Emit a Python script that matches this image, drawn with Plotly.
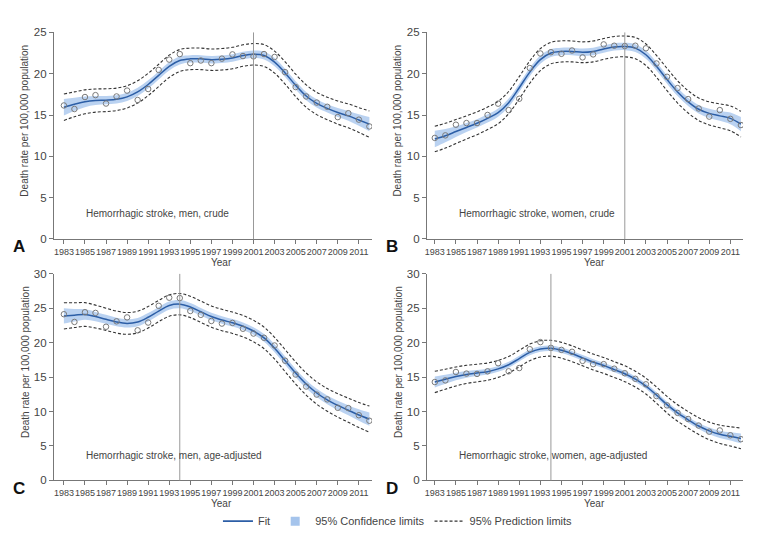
import plotly.graph_objects as go

# year axis shared by all four panels
years = list(range(1983, 2013))
tick_years = list(range(1983, 2012, 2))

# A: men, crude
a_obs = [16.16, 15.73, 17.18, 17.41, 16.39, 17.25, 17.96, 16.82, 18.15, 20.46,
         21.71, 22.38, 21.28, 21.60, 21.28, 21.83, 22.34, 22.14, 22.10, 22.38,
         22.03, 20.19, 18.39, 17.25, 16.51, 16.00, 14.75, 15.22, 14.44, 13.62]
a_fit = [15.95, 16.3, 16.6, 16.75, 16.8, 16.9, 17.2, 17.8, 18.7, 19.8,
         20.9, 21.6, 21.8, 21.8, 21.7, 21.75, 21.9, 22.2, 22.35, 22.2,
         21.4, 20.1, 18.6, 17.3, 16.4, 15.8, 15.3, 14.9, 14.4, 13.9]
a_ci = [1.0, 0.8, 0.65, 0.55, 0.5, 0.5, 0.5, 0.5, 0.5, 0.5,
        0.5, 0.48, 0.45, 0.45, 0.45, 0.45, 0.45, 0.45, 0.45, 0.48,
        0.5, 0.5, 0.5, 0.5, 0.5, 0.5, 0.55, 0.6, 0.7, 0.85]
a_pi = [1.6, 1.5, 1.45, 1.4, 1.38, 1.36, 1.35, 1.35, 1.35, 1.35,
        1.35, 1.33, 1.3, 1.3, 1.3, 1.3, 1.3, 1.3, 1.3, 1.32,
        1.33, 1.35, 1.35, 1.35, 1.35, 1.36, 1.4, 1.45, 1.5, 1.6]

# B: women, crude
b_obs = [12.23, 12.54, 13.83, 14.03, 14.03, 15.01, 16.38, 15.60, 16.97, 20.69,
         22.45, 22.61, 22.41, 22.81, 21.98, 22.34, 23.55, 23.39, 23.35, 23.39,
         23.08, 21.24, 19.63, 18.26, 16.93, 15.79, 14.81, 15.60, 14.54, 13.79]
b_fit = [12.1, 12.5, 13.0, 13.5, 14.0, 14.6, 15.3, 16.5, 18.3, 20.2,
         21.7, 22.5, 22.7, 22.7, 22.6, 22.7, 23.0, 23.25, 23.3, 23.1,
         22.3, 20.9, 19.3, 17.8, 16.6, 15.7, 15.2, 14.9, 14.6, 13.9]
b_ci = [1.0, 0.8, 0.65, 0.55, 0.5, 0.5, 0.5, 0.5, 0.5, 0.5,
        0.5, 0.48, 0.45, 0.45, 0.45, 0.45, 0.45, 0.45, 0.45, 0.48,
        0.5, 0.5, 0.5, 0.5, 0.5, 0.5, 0.55, 0.6, 0.7, 0.85]
b_pi = [1.55, 1.5, 1.45, 1.4, 1.38, 1.36, 1.35, 1.35, 1.35, 1.35,
        1.33, 1.3, 1.28, 1.27, 1.26, 1.26, 1.26, 1.26, 1.26, 1.28,
        1.3, 1.32, 1.35, 1.35, 1.35, 1.36, 1.4, 1.45, 1.5, 1.55]

# C: men, age-adjusted
c_obs = [24.14, 23.02, 24.43, 24.33, 22.32, 23.11, 23.68, 21.80, 22.93, 25.36,
         26.54, 26.49, 24.61, 24.05, 23.16, 22.78, 22.88, 22.03, 21.33, 20.72,
         19.60, 17.39, 15.38, 13.64, 12.47, 11.77, 10.55, 10.50, 9.47, 8.67]
c_fit = [23.9, 24.0, 24.1, 23.8, 23.4, 23.0, 22.8, 23.0, 23.7, 24.6,
         25.4, 25.6, 25.2, 24.5, 23.8, 23.3, 22.9, 22.4, 21.7, 20.7,
         19.2, 17.4, 15.6, 14.0, 12.7, 11.7, 10.9, 10.2, 9.5, 8.9]
c_ci = [1.1, 0.9, 0.75, 0.68, 0.65, 0.62, 0.6, 0.6, 0.6, 0.6,
        0.6, 0.6, 0.58, 0.56, 0.55, 0.55, 0.55, 0.55, 0.55, 0.56,
        0.58, 0.6, 0.6, 0.6, 0.6, 0.62, 0.66, 0.72, 0.82, 0.95]
c_pi = [1.9, 1.8, 1.72, 1.66, 1.62, 1.6, 1.58, 1.57, 1.56, 1.55,
        1.55, 1.55, 1.55, 1.55, 1.55, 1.55, 1.55, 1.55, 1.56, 1.57,
        1.58, 1.6, 1.6, 1.6, 1.62, 1.65, 1.7, 1.75, 1.82, 1.9]

# D: women, age-adjusted
d_obs = [14.29, 14.53, 15.75, 15.52, 15.47, 15.85, 17.03, 15.85, 16.32, 19.06,
         20.09, 19.25, 18.96, 18.68, 17.36, 16.89, 16.89, 16.23, 15.57, 14.76,
         13.96, 12.26, 10.90, 9.81, 8.92, 7.97, 7.08, 7.26, 6.56, 5.99]
d_fit = [14.3, 14.7, 15.1, 15.4, 15.6, 15.8, 16.2, 16.8, 17.7, 18.6,
         19.1, 19.2, 18.9, 18.4, 17.8, 17.2, 16.7, 16.1, 15.5, 14.7,
         13.7, 12.4, 11.0, 9.8, 8.8, 7.9, 7.2, 6.7, 6.4, 6.1]
d_ci = [0.8, 0.65, 0.55, 0.48, 0.45, 0.42, 0.42, 0.42, 0.42, 0.42,
        0.4, 0.4, 0.4, 0.4, 0.4, 0.4, 0.4, 0.4, 0.4, 0.4,
        0.4, 0.42, 0.42, 0.42, 0.42, 0.44, 0.48, 0.53, 0.6, 0.7]
d_pi = [1.55, 1.45, 1.38, 1.32, 1.28, 1.25, 1.23, 1.2, 1.2, 1.2,
        1.18, 1.15, 1.15, 1.15, 1.15, 1.15, 1.15, 1.15, 1.15, 1.15,
        1.15, 1.18, 1.2, 1.2, 1.2, 1.22, 1.27, 1.33, 1.4, 1.5]

# the page body has an 8px margin, so the figure is drawn 8px in from the corner
PAGE_W, PAGE_H, OFF = 761, 544, 8
W, H = PAGE_W - 2 * OFF, PAGE_H - 2 * OFF


def px(x):
    return (x - OFF) / W


def py(y):
    return 1 - (y - OFF) / H


FONT = "Liberation Sans, Arial, sans-serif"
FIT_COL = "#2c5ea6"
BAND_COL = "rgba(140,180,232,0.6)"
TXT = "#444444"

panels = [
    dict(tag="A", obs=a_obs, fit=a_fit, ci=a_ci, pi=a_pi, cut=2001, ymax=25,
         text="Hemorrhagic stroke, men, crude",
         box=(52, 371, 27, 240), xr=[1982.05, 2012.25]),
    dict(tag="B", obs=b_obs, fit=b_fit, ci=b_ci, pi=b_pi, cut=2001, ymax=25,
         text="Hemorrhagic stroke, women, crude",
         box=(426, 743, 27, 240), xr=[1982.25, 2012.2]),
    dict(tag="C", obs=c_obs, fit=c_fit, ci=c_ci, pi=c_pi, cut=1994, ymax=30,
         text="Hemorrhagic stroke, men, age-adjusted",
         box=(52, 371, 276, 489), xr=[1982.05, 2012.25]),
    dict(tag="D", obs=d_obs, fit=d_fit, ci=d_ci, pi=d_pi, cut=1994, ymax=30,
         text="Hemorrhagic stroke, women, age-adjusted",
         box=(426, 743, 276, 489), xr=[1982.25, 2012.2]),
]

fig = go.Figure()
annotations = []

for i, p in enumerate(panels):
    n = "" if i == 0 else str(i + 1)
    xa, ya = "x" + n, "y" + n
    ci_lo = [f - h for f, h in zip(p["fit"], p["ci"])]
    ci_hi = [f + h for f, h in zip(p["fit"], p["ci"])]
    pi_lo = [f - h for f, h in zip(p["fit"], p["pi"])]
    pi_hi = [f + h for f, h in zip(p["fit"], p["pi"])]

    fig.add_trace(go.Scatter(x=years, y=ci_lo, mode="lines", xaxis=xa, yaxis=ya,
                             line=dict(width=0, shape="spline"), showlegend=False,
                             hoverinfo="skip"))
    fig.add_trace(go.Scatter(x=years, y=ci_hi, mode="lines", xaxis=xa, yaxis=ya,
                             line=dict(width=0, shape="spline"), fill="tonexty",
                             fillcolor=BAND_COL, showlegend=False))
    for band in [pi_hi, pi_lo]:
        fig.add_trace(go.Scatter(x=years, y=band, mode="lines", xaxis=xa, yaxis=ya,
                                 line=dict(color="#333333", width=1.1, dash="3px,2px",
                                           shape="spline"),
                                 showlegend=False))
    fig.add_trace(go.Scatter(x=years, y=p["fit"], mode="lines", xaxis=xa, yaxis=ya,
                             line=dict(color=FIT_COL, width=1.5, shape="spline"),
                             showlegend=False))
    fig.add_trace(go.Scatter(x=years, y=p["obs"], mode="markers", xaxis=xa, yaxis=ya,
                             marker=dict(symbol="circle-open", size=5.5, color="#7a7a7a",
                                         line=dict(width=1)),
                             showlegend=False))

    fig.add_shape(type="line", xref=xa, yref=ya + " domain", x0=p["cut"], x1=p["cut"],
                  y0=0, y1=1, line=dict(color="#999999", width=1))

    left, right, top, bottom = p["box"]
    fig.layout["xaxis" + n] = dict(
        domain=[px(left), px(right)], range=p["xr"], anchor=ya,
        tickvals=tick_years, ticks="outside", ticklen=4, tickcolor="#777",
        tickangle=0, showline=True, linecolor="#777", showgrid=False, zeroline=False,
        tickfont=dict(size=9, color=TXT, family=FONT))
    fig.layout["yaxis" + n] = dict(
        domain=[py(bottom), py(top)], range=[0, p["ymax"]], anchor=xa,
        dtick=5, ticks="outside", ticklen=4, tickcolor="#777",
        showline=True, linecolor="#777", showgrid=False, zeroline=False,
        tickfont=dict(size=11.5, color=TXT, family=FONT))

    # panel text, axis titles and letter
    annotations += [
        dict(text=p["text"], x=px(left + 30), y=py(bottom - 26),
             xanchor="left", yanchor="middle", font=dict(size=10)),
        dict(text="Death rate per 100,000 population", textangle=-90,
             x=px(left - 29), y=py(top + 91), xanchor="center",
             yanchor="middle", font=dict(size=10)),
        dict(text="Year", x=px(left + 168), y=py(bottom + 24),
             xanchor="center", yanchor="middle", font=dict(size=10)),
        dict(text="<b>%s</b>" % p["tag"], x=px(left - 35), y=py(bottom + 8),
             xanchor="center", yanchor="middle",
             font=dict(size=17, color="#111111")),
    ]

# legend-only entries
fig.add_trace(go.Scatter(x=[None], y=[None], mode="lines", name="Fit",
                         line=dict(color=FIT_COL, width=1.6)))
fig.add_trace(go.Scatter(x=[None], y=[None], mode="markers", name="95% Confidence limits",
                         marker=dict(symbol="square", size=9, color="rgb(165,196,236)")))
fig.add_trace(go.Scatter(x=[None], y=[None], mode="lines", name="95% Prediction limits",
                         line=dict(color="#333333", width=1.1, dash="3px,2px")))

for a in annotations:
    a.update(xref="paper", yref="paper", showarrow=False)

fig.update_layout(
    width=W, height=H,
    margin=dict(l=0, r=0, t=0, b=0),
    paper_bgcolor="white", plot_bgcolor="white",
    font=dict(family=FONT, color=TXT, size=11),
    annotations=annotations,
    legend=dict(orientation="h", x=px(397), xanchor="center", y=py(531),
                yanchor="middle", font=dict(size=11, color=TXT),
                itemwidth=30, traceorder="normal"),
)

fig.write_html("out.html")
